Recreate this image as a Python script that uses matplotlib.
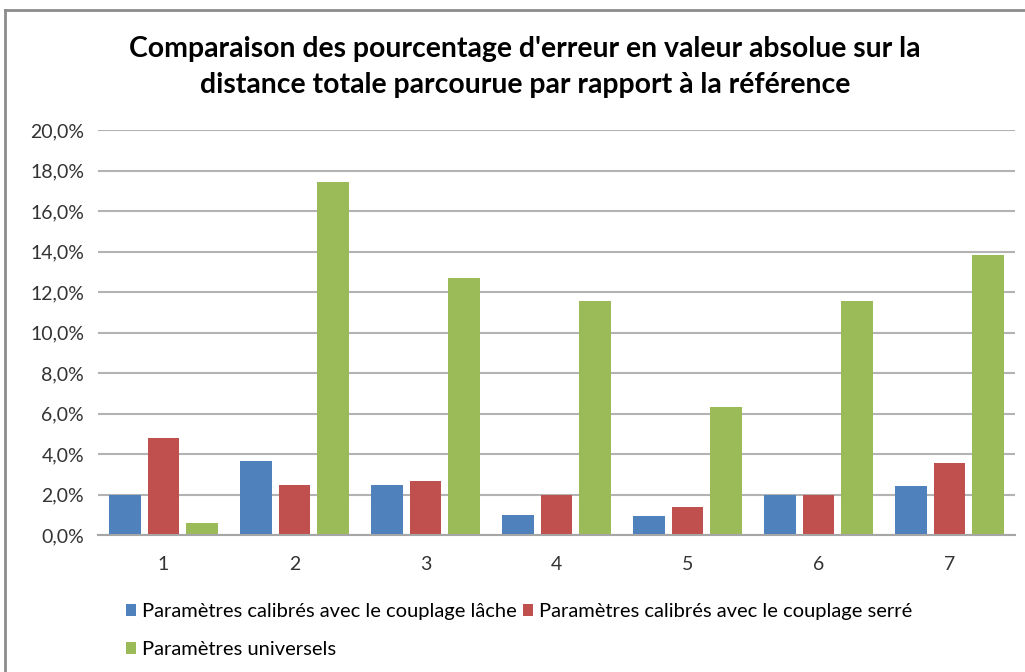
import numpy as np
import matplotlib.pyplot as plt
from matplotlib.lines import Line2D

categories = ['1', '2', '3', '4', '5', '6', '7']
lache = [2.0, 3.63, 2.46, 0.98, 0.96, 2.0, 2.43]
serre = [4.77, 2.46, 2.67, 2.0, 1.37, 1.98, 3.58]
universels = [0.6, 17.41, 12.7, 11.57, 6.34, 11.57, 13.85]
labels = ['Paramètres calibrés avec le couplage lâche',
          'Paramètres calibrés avec le couplage serré',
          'Paramètres universels']
colors = ['#4F81BD', '#C0504D', '#9BBB59']
yticks = [0, 2, 4, 6, 8, 10, 12, 14, 16, 18, 20]

plt.rcParams['font.family'] = ['Lato', 'DejaVu Sans']

fig = plt.figure(figsize=(10.25, 6.72), dpi=100)
ax = fig.add_axes([98/1025, 137/672, 917/1025, 405/672])

x = np.arange(len(categories))
step = 0.294
bars = []
for i, (vals, c) in enumerate(zip([lache, serre, universels], colors)):
    b = ax.bar(x + (i - 1) * step, vals, width=0.237, color=c, zorder=3)
    bars.append(b)

ax.set_xlim(-0.5, len(categories) - 0.5)
ax.set_ylim(0, 20)
ax.set_yticks(yticks)
ax.set_yticklabels([f'{v:.1f}%'.replace('.', ',') for v in yticks], fontsize=14, color='#333333')
ax.set_xticks(x)
ax.set_xticklabels(categories, fontsize=14, color='#333333')
ax.tick_params(axis='both', length=0)
ax.tick_params(axis='y', pad=10)
ax.tick_params(axis='x', pad=15)

ax.grid(axis='y', color='#b3b3b3', linewidth=1.5, zorder=0)
for s in ['top', 'right', 'left']:
    ax.spines[s].set_visible(False)
ax.spines['bottom'].set_color('#a6a6a6')
ax.spines['bottom'].set_linewidth(1.5)
ax.spines['bottom'].set_zorder(4)

fig.text(525/1025, 1 - 67/672,
         "Comparaison des pourcentage d'erreur en valeur absolue sur la\n"
         "distance totale parcourue par rapport à la référence",
         ha='center', va='center', fontsize=20.4, fontweight='bold',
         linespacing=1.5)

leg = fig.legend([bars[0], bars[2], bars[1]], [labels[0], labels[2], labels[1]],
                 ncol=2, loc='upper left', bbox_to_anchor=(126/1025, 1 - 603/672),
                 frameon=False, fontsize=14.5, handlelength=0.5, handleheight=0.5,
                 handletextpad=0.3, columnspacing=0.3, labelspacing=1.05,
                 borderaxespad=0, borderpad=0)

# chart border
fig.add_artist(Line2D([5/1025, 5/1025], [0, 1 - 10/672], color='#8c8c8c', lw=2))
fig.add_artist(Line2D([5/1025, 1], [1 - 10/672, 1 - 10/672], color='#8c8c8c', lw=2))

plt.savefig('out.png', dpi=100)
